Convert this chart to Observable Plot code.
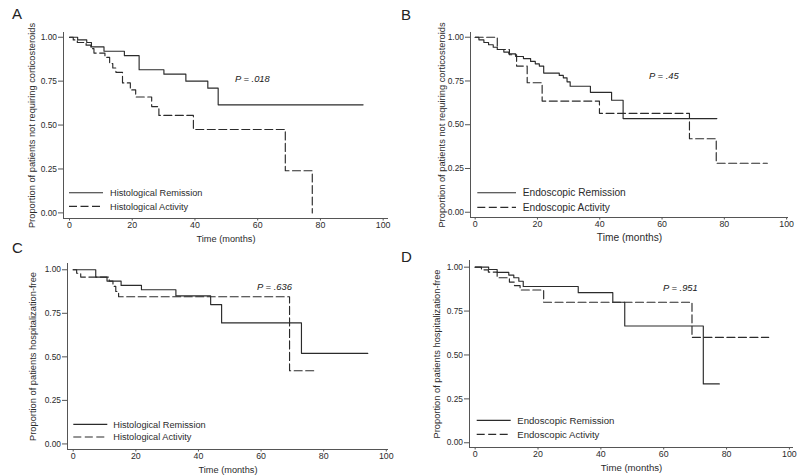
<!DOCTYPE html>
<html>
<head>
<meta charset="utf-8">
<script src="https://cdn.jsdelivr.net/npm/d3@7"></script>
<script src="https://cdn.jsdelivr.net/npm/@observablehq/plot@0.6"></script>
<style>
  html, body { margin: 0; padding: 0; background: #fff; }
  #wrap { position: relative; width: 800px; height: 476px; overflow: hidden; background: #fff; font-family: "Liberation Sans", Arial, sans-serif; }
  .panel { position: absolute; width: 400px; }
  .panel svg { max-width: none; overflow: visible; }
  .letter { position: absolute; font-family: "Liberation Sans", Arial, sans-serif; font-size: 15px; color: #222; line-height: 1; }
</style>
</head>
<body>
<div id="wrap"></div>
<script>
// ---------- data ----------
const xTicks = [0, 20, 40, 60, 80, 100];
const yTicks = [0, 0.25, 0.5, 0.75, 1];

// Panel A: corticosteroid-free, histology
const timeA_rem = [0, 2.6, 5.5, 7, 11, 17.5, 22.2, 30.1, 37.1, 44.1, 47.4, 93.6];
const survA_rem = [1, 0.985, 0.97, 0.945, 0.92, 0.895, 0.815, 0.79, 0.75, 0.71, 0.615, 0.615];
const timeA_act = [0, 1.2, 2.5, 5.3, 6.8, 7.8, 11.3, 12.8, 13.8, 14.8, 16.9, 19.4, 21.1, 26.2, 28.5, 39.5, 68.8, 77.4];
const survA_act = [1, 0.985, 0.97, 0.955, 0.935, 0.91, 0.885, 0.85, 0.825, 0.80, 0.74, 0.70, 0.66, 0.605, 0.555, 0.475, 0.24, 0];

// Panel B: corticosteroid-free, endoscopy
const timeB_rem = [0, 1.2, 2.8, 4.3, 5.8, 7.1, 9.2, 10.8, 13, 15.5, 17.8, 19.3, 20.6, 22, 27, 28.3, 29.5, 30.5, 37, 43.8, 47.5, 77.6];
const survB_rem = [1, 0.985, 0.97, 0.957, 0.943, 0.93, 0.915, 0.905, 0.89, 0.878, 0.862, 0.848, 0.835, 0.795, 0.782, 0.768, 0.745, 0.72, 0.685, 0.64, 0.535, 0.535];
const timeB_act = [0, 7.1, 11, 13.3, 16.7, 21.5, 39.9, 68.8, 77.4, 93.8];
const survB_act = [1, 0.93, 0.90, 0.835, 0.74, 0.635, 0.565, 0.42, 0.28, 0.28];

// Panel C: hospitalization-free, histology
const timeC_rem = [0, 7.2, 10.8, 15.3, 21.8, 32.8, 43.9, 47.4, 72.9, 94.1];
const survC_rem = [1, 0.958, 0.935, 0.91, 0.885, 0.85, 0.80, 0.695, 0.52, 0.52];
const timeC_act = [0, 1.1, 2.4, 11.5, 12.7, 13.6, 14.5, 69.1, 77.7];
const survC_act = [1, 0.98, 0.958, 0.935, 0.905, 0.875, 0.845, 0.42, 0.42];

// Panel D: hospitalization-free, endoscopy
const timeD_rem = [0, 4.3, 7.0, 10.7, 12.3, 13.9, 15.3, 32.8, 43.8, 47.6, 72.6, 77.7];
const survD_rem = [1, 0.987, 0.97, 0.955, 0.94, 0.92, 0.89, 0.855, 0.80, 0.665, 0.335, 0.335];
const timeD_act = [0, 2.0, 4.2, 7.0, 10.9, 12.5, 14.3, 21.8, 69, 93.4];
const survD_act = [1, 0.985, 0.972, 0.94, 0.915, 0.895, 0.87, 0.80, 0.60, 0.60];

const panelLetters = ["A", "B", "C", "D"];
const yLabels = [
  "Proportion of patients not requiring corticosteroids",
  "Proportion of patients not requiring corticosteroids",
  "Proportion of patients hospitalization-free",
  "Proportion of patients hospitalization-free"
];
const xLabel = "Time (months)";
const seriesNames = [
  ["Histological Remission", "Histological Activity"],
  ["Endoscopic Remission", "Endoscopic Activity"],
  ["Histological Remission", "Histological Activity"],
  ["Endoscopic Remission", "Endoscopic Activity"]
];
const pLabels = ["P = .018", "P = .45", "P = .636", "P = .951"];
const pPosT = [58.3, 60.6, 64.3, 65.3];
const pPosS = [0.765, 0.781, 0.904, 0.88];

// ---------- layout ----------
const panels = [
  {left: 0,   top: 0,   h: 246, mL: 63, mR: 12, mT: 32, mB: 28, xd: [-1.91, 101.7], yd: [-0.032, 1.027],
   rem: [timeA_rem, survA_rem], act: [timeA_act, survA_act], fs: 9.2, yOff: 35.5,
   leg: {x0: 69, x1: 103, tx: 110, y1: 192.7, y2: 206.3}, letter: [12, 6]},
  {left: 400, top: 0,   h: 246, mL: 70, mR: 12, mT: 32, mB: 29, xd: [-1.5, 100.6], yd: [-0.030, 1.027],
   rem: [timeB_rem, survB_rem], act: [timeB_act, survB_act], fs: 10.2, yOff: 32,
   leg: {x0: 77.3, x1: 116, tx: 122.7, y1: 192.7, y2: 207.3}, letter: [1, 7]},
  {left: 0,   top: 236, h: 240, mL: 67, mR: 12, mT: 27, mB: 27, xd: [-1.82, 100.7], yd: [-0.032, 1.036],
   rem: [timeC_rem, survC_rem], act: [timeC_act, survC_act], fs: 9.2, yOff: 38,
   leg: {x0: 73.3, x1: 107.3, tx: 113.3, y1: 188.3, y2: 201}, letter: [12, 4]},
  {left: 400, top: 236, h: 240, mL: 69, mR: 7,  mT: 24, mB: 29, xd: [-1.8, 101.3], yd: [-0.027, 1.038],
   rem: [timeD_rem, survD_rem], act: [timeD_act, survD_act], fs: 9.6, yOff: 36.5,
   leg: {x0: 76.7, x1: 110.7, tx: 117.3, y1: 184.3, y2: 198.3}, letter: [1, 13]}
];

const ink = "#2b2b2b";
const axisInk = "#555";
const dash = "8,3.5";
const wrap = document.getElementById("wrap");

panels.forEach((p, i) => {
  const rem = p.rem[0].map((t, j) => ({t, s: p.rem[1][j]}));
  const act = p.act[0].map((t, j) => ({t, s: p.act[1][j]}));
  const chart = Plot.plot({
    width: 400,
    height: p.h,
    marginLeft: p.mL, marginRight: p.mR, marginTop: p.mT, marginBottom: p.mB,
    style: {background: "transparent", fontFamily: "Liberation Sans, Arial, sans-serif", fontSize: "9px", color: ink, overflow: "visible"},
    x: {domain: p.xd},
    y: {domain: p.yd},
    marks: [
      Plot.ruleX([p.xd[0]], {y1: p.yd[0], y2: p.yd[1], stroke: axisInk, strokeWidth: 1}),
      Plot.ruleY([p.yd[0]], {x1: p.xd[0], x2: p.xd[1], stroke: axisInk, strokeWidth: 1}),
      Plot.axisY({ticks: yTicks, tickFormat: d3.format(".2f"), tickSize: 5, tickPadding: 1.5, stroke: axisInk,
        label: null, fontSize: 8.4}),
      Plot.axisY({ticks: [], label: yLabels[i], labelAnchor: "center", labelArrow: "none", labelOffset: p.yOff, fontSize: 9.3}),
      Plot.axisX({ticks: xTicks, tickSize: 2.5, tickPadding: 0.5, stroke: axisInk, label: null, fontSize: 8.8}),
      Plot.axisX({ticks: [], label: xLabel, labelAnchor: "center", labelArrow: "none", labelOffset: 23, fontSize: p.fs}),
      Plot.line(rem, {x: "t", y: "s", curve: "step-after", stroke: ink, strokeWidth: 1.15}),
      Plot.line(act, {x: "t", y: "s", curve: "step-after", stroke: ink, strokeWidth: 1.15, strokeDasharray: dash}),
      Plot.text([pLabels[i]], {x: pPosT[i], y: pPosS[i], text: d => d, fontStyle: "italic", fontSize: 9.4, fill: "#1a1a1a"})
    ]
  });
  const div = document.createElement("div");
  div.className = "panel";
  div.style.left = p.left + "px";
  div.style.top = p.top + "px";
  div.appendChild(chart);
  wrap.appendChild(div);

  // legend (inside plot, bottom-left)
  const svg = d3.select(chart);
  const g = svg.append("g").attr("font-size", p.fs).attr("fill", ink).attr("text-anchor", "start");
  [[p.leg.y1, null, seriesNames[i][0]], [p.leg.y2, dash, seriesNames[i][1]]].forEach(([y, da, name]) => {
    g.append("line").attr("x1", p.leg.x0).attr("x2", p.leg.x1).attr("y1", y).attr("y2", y)
      .attr("stroke", ink).attr("stroke-width", 1.15).attr("stroke-dasharray", da);
    g.append("text").attr("x", p.leg.tx).attr("y", y).attr("dy", "0.35em").attr("text-anchor", "start").text(name);
  });

  const L = document.createElement("div");
  L.className = "letter";
  L.textContent = panelLetters[i];
  L.style.left = (p.left + p.letter[0]) + "px";
  L.style.top = (p.top + p.letter[1]) + "px";
  wrap.appendChild(L);
});
</script>
</body>
</html>
